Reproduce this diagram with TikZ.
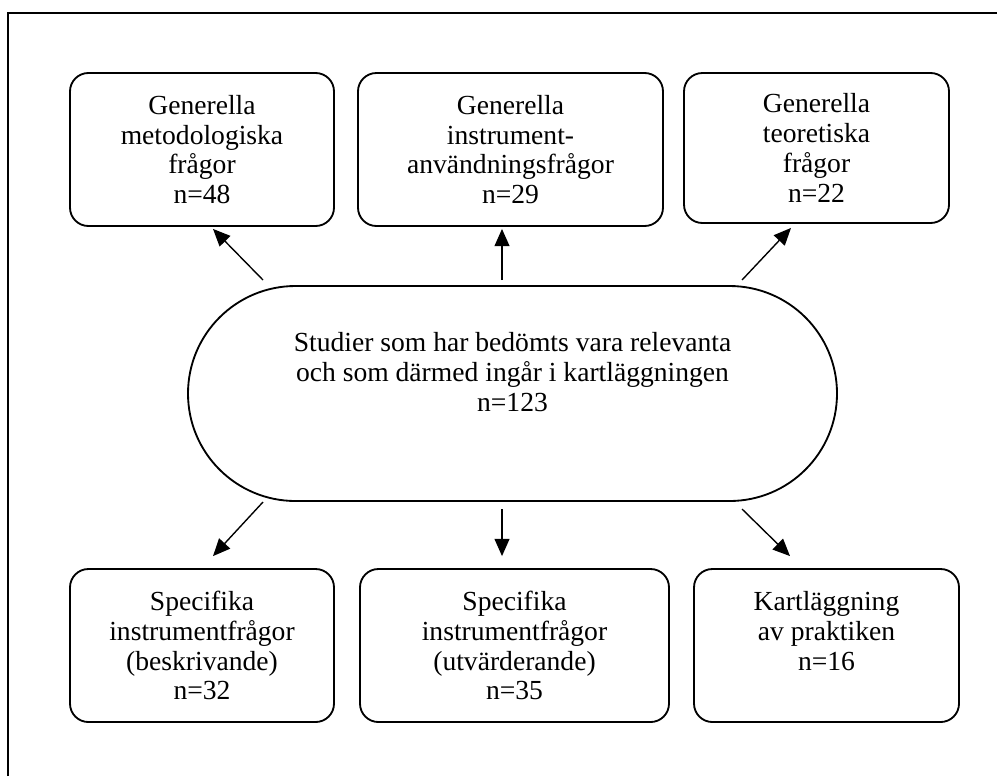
\documentclass[tikz,border=0pt]{standalone}
\usepackage{fontspec}
\setmainfont{Liberation Serif}
\usetikzlibrary{arrows.meta,shapes.misc}

\newcommand{\un}{0.435pt}

\tikzset{
  box/.style={draw, line width=0.8pt, rounded corners=8pt, align=center, inner sep=0pt,
    minimum height=153*\un, font=\fontsize{12}{13}\selectfont},
  hubshape/.style={draw, line width=0.8pt, rounded rectangle, inner sep=0pt,
    minimum width=649*\un, minimum height=215*\un},
  arr/.style={-{Triangle[length=7.5pt,width=6.5pt]}, line width=0.6pt},
}

\begin{document}
\begin{tikzpicture}[x=\un,y=-\un]
\useasboundingbox (0,0) rectangle (997,776);
% frame
\draw[line width=0.9pt] (8,776) -- (8,13) -- (997,13);

% top row
\node[box, minimum width=264*\un] (metod) at (202,149.5) {Generella\\metodologiska\\frågor\\n=48};
\node[box, minimum width=305*\un] (anvand) at (510.5,149.5) {Generella\\instrument-\\användningsfrågor\\n=29};
\node[box, minimum width=265*\un, minimum height=150*\un] (teori) at (816.5,148) {Generella\\teoretiska\\frågor\\n=22};

% centre
\node[hubshape] (hub) at (512.5,393.5) {};
\node[align=center, font=\fontsize{12}{13}\selectfont] (hubtext) at (512.5,372) {Studier som har bedömts vara relevanta\\och som därmed ingår i kartläggningen\\n=123};

% bottom row
\node[box, minimum width=264*\un] (beskr) at (202,645.5) {Specifika\\instrumentfrågor\\(beskrivande)\\n=32};
\node[box, minimum width=309*\un] (utvard) at (514.5,645.5) {Specifika\\instrumentfrågor\\(utvärderande)\\n=35};
\node[box, minimum width=265*\un] (praktik) at (826.5,645.5) {Kartläggning\\av praktiken\\n=16\\\mbox{}};

% arrows
\coordinate (u1) at (263,280);
\coordinate (u2) at (502,280);
\coordinate (u3) at (742,280);
\coordinate (d1) at (263,502);
\coordinate (d2) at (502,509);
\coordinate (d3) at (742,509);
\draw[arr] (u1) -- ([shift={(11,2)}]metod.south);
\draw[arr] (u2) -- ([shift={(-8.5,2)}]anvand.south);
\draw[arr] (u3) -- ([shift={(-25.5,4)}]teori.south);
\draw[arr] (d1) -- ([shift={(11,-12)}]beskr.north);
\draw[arr] (d2) -- ([shift={(-12.5,-12)}]utvard.north);
\draw[arr] (d3) -- ([shift={(-36.5,-12)}]praktik.north);
\end{tikzpicture}
\end{document}
